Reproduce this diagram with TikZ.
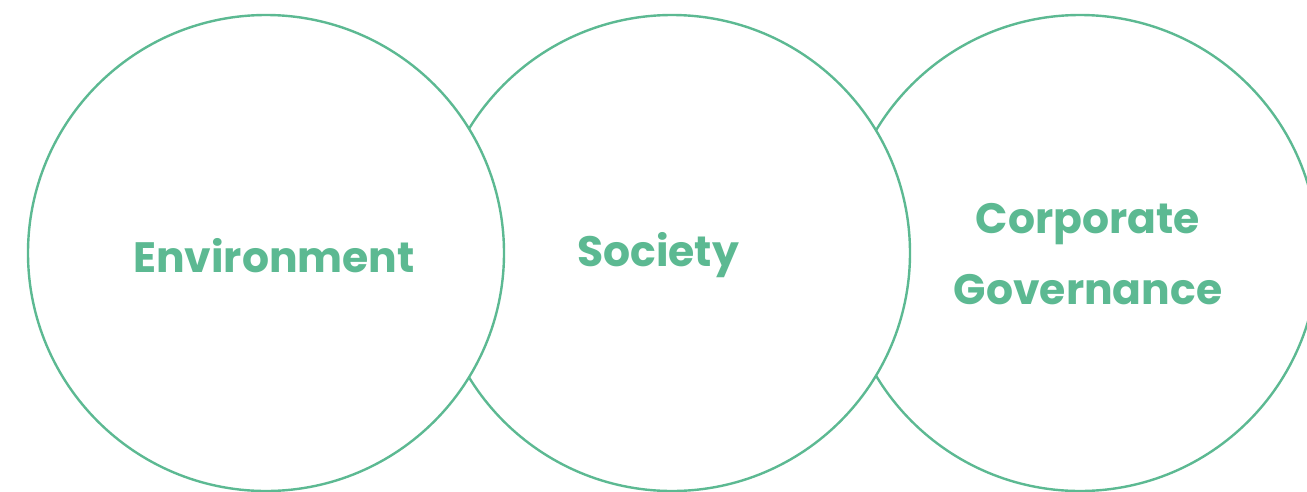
\documentclass[tikz,border=0pt]{standalone}
\usepackage{fontspec}
\setmainfont{Poppins}
\usetikzlibrary{positioning}
\definecolor{esggreen}{RGB}{92,185,146}
\tikzset{
  pillar/.style={circle, draw=esggreen, line width=2.4pt, fill=white, minimum size=476pt, inner sep=0pt},
  pillartext/.style={text=esggreen, font=\fontsize{42.5}{71}\selectfont\bfseries, align=center}
}

\begin{document}
\begin{tikzpicture}[x=1pt,y=-1pt]
            \useasboundingbox (0,0) rectangle (1307,491);
            \clip (0,0) rectangle (1307,491);
            % right to left, so each circle hides the arc of the next one
            \foreach \cx/\name in {1080/gov, 672/soc, 266/env}
            {
            \node[pillar] (\name) at (\cx,253) {};
            }
            \node[pillartext] (envtext) at (274,256) {Environment};
            \node[pillartext] (soctext) at (658,255) {Society};
            \node[pillartext] (govtext) at (1088,254) {Corporate\\Governance};
\end{tikzpicture}
\end{document}
